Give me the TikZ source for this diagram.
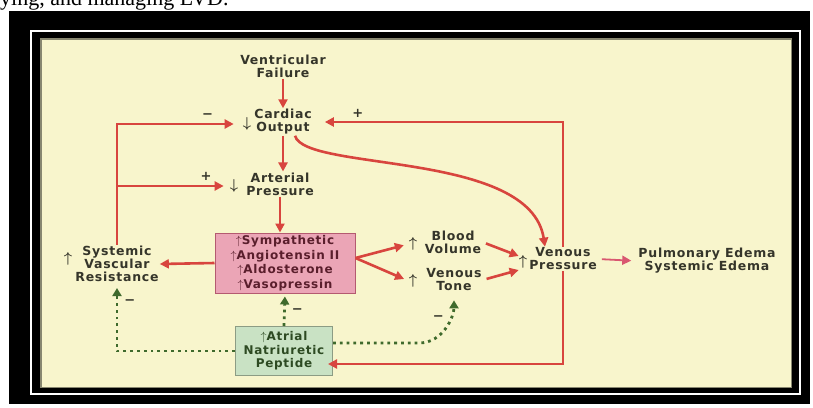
\documentclass[tikz,border=0pt]{standalone}
\usepackage{fontspec}
\setmainfont{Liberation Serif}
\newfontfamily\diagfont[LetterSpace=6]{DejaVu Sans}
\usetikzlibrary{arrows.meta}
\definecolor{creme}{HTML}{F8F5CC}
\definecolor{rouge}{HTML}{D8453E}
\definecolor{roserouge}{HTML}{D95770}
\definecolor{rose}{HTML}{EBA5B6}
\definecolor{rosefonce}{HTML}{B45A70}
\definecolor{bordeaux}{HTML}{5A1E2C}
\definecolor{vertpale}{HTML}{C9E2C4}
\definecolor{vertgris}{HTML}{8C9C84}
\definecolor{vert}{HTML}{3F6A2C}
\definecolor{vertfonce}{HTML}{2D4A22}
\definecolor{encre}{HTML}{35352A}

\begin{document}
\begin{tikzpicture}[x=1pt,y=-1pt]
\tikzset{lbl/.style={font=\diagfont\bfseries\fontsize{12.5}{13}\selectfont, text=encre, align=center, inner sep=1pt},
  sym/.style={font=\Large\boldmath, text=encre, inner sep=0pt},
  sgn/.style={font=\diagfont\bfseries\fontsize{13}{13}\selectfont, text=encre, inner sep=0pt},
  fl/.style={draw=rouge, line width=2.6pt, -{Triangle[length=9pt,width=9pt]}},
  pt/.style={draw=vert, line width=2.8pt, dash pattern=on 2.8pt off 4pt, -{Triangle[length=8pt,width=9pt]}}}
\useasboundingbox (0,0) rectangle (813,407);
% cadre
\fill[black] (9,11) rectangle (810,404);
\draw[white, line width=2.5pt] (31,31) rectangle (800,394);
\fill[creme] (40,38) rectangle (792,388);
\draw[black!45!creme, line width=1.5pt] (40.75,38.75) rectangle (791.25,387.25);
\begin{scope}
\clip (0,0) rectangle (813,407);
\node[anchor=base west, inner sep=0pt, font=\fontsize{22}{22}\selectfont] (HAUT) at (0,5) {ying, and managing LVD.};
\end{scope}
% noeuds
\node[lbl] (VF) at (283,66) {Ventricular\\Failure};
\node[lbl] (CO) at (283,122) {Cardiac\\Output};
\node[sym] (COa) at (247,124) {$\downarrow$};
\node[lbl] (AP) at (280,184) {Arterial\\Pressure};
\node[sym] (APa) at (234,186) {$\downarrow$};
\node[draw=rosefonce, fill=rose, line width=1pt, minimum width=140pt, minimum height=60pt, inner sep=0pt, align=center, text=bordeaux,
  font=\diagfont\bfseries\fontsize{12}{14.5}\selectfont] (SNS) at (285,263)
  {$\uparrow$Sympathetic\\$\uparrow$Angiotensin II\\$\uparrow$Aldosterone\\$\uparrow$Vasopressin};
\node[lbl] (SVR) at (117,264) {Systemic\\Vascular\\Resistance};
\node[sym] (SVRa) at (68,259) {$\uparrow$};
\node[lbl] (BV) at (453,242) {Blood\\Volume};
\node[sym] (BVa) at (413,244) {$\uparrow$};
\node[lbl] (VT) at (454,280) {Venous\\Tone};
\node[sym] (VTa) at (413,281) {$\uparrow$};
\node[lbl] (VP) at (563,259) {Venous\\Pressure};
\node[sym] (VPa) at (523,262) {$\uparrow$};
\node[lbl] (ED) at (707,261) {Pulmonary Edema\\Systemic Edema};
\node[draw=vertgris, fill=vertpale, line width=1pt, minimum width=97pt, minimum height=49pt, inner sep=0pt, align=center, text=vertfonce,
  font=\diagfont\bfseries\fontsize{12}{13.5}\selectfont] (ANP) at (284,351) {$\uparrow$Atrial\\Natriuretic\\Peptide};
% fleches
\draw[fl] (VF.south) -- (VF.south |- CO.north);
\draw[fl] (CO.south) -- (CO.south |- AP.north);
\draw[fl] (AP.south) -- (AP.south |- SNS.north);
\draw[fl] (SNS.west) -- (SVR.east);
\draw[fl, shorten >=5pt] ([yshift=5pt]SNS.east) -- (BVa.west);
\draw[fl, shorten >=5pt] ([yshift=5pt]SNS.east) -- (VTa.west);
\draw[fl, shorten <=4pt] (BV.east) -- ([yshift=6pt]VPa.west);
\draw[fl, shorten <=4pt] (VT.east) -- ([yshift=-8pt]VPa.west);
\draw[fl, draw=roserouge, line width=1.8pt, shorten <=4pt, shorten >=6pt] (VP.east) -- (ED.west);
\draw[fl] ([xshift=12pt]CO.south) .. controls (305,172) and (530,150) .. ([xshift=-18pt]VP.north);
% boucles
\draw[fl, shorten >=9pt] (SVR.north) |- (COa.west) node[sgn, pos=0.86, above=4pt] {−};
\draw[fl, shorten >=6pt] (SVR.north |- APa.west) -- (APa.west) node[sgn, pos=0.79, above=4pt] {+};
\draw[fl, shorten >=12pt] (VP.north) |- (CO.east) node[sgn, pos=0.91, above=3pt] {+};
\draw[fl, shorten >=-5pt] (VP.south) |- ([yshift=-13pt]ANP.east);
\draw[pt, shorten >=5pt] (ANP.west) -| (SVR.south) node[sgn, pos=0.86, right=6pt] {−};
\draw[pt, shorten >=3pt] (ANP.north) -- (SNS.south) node[sgn, pos=0.45, right=6pt] {−};
\draw[pt, shorten >=8pt] ([yshift=8pt]ANP.east) -- ++(86,0) to[out=0,in=-90] node[sgn, pos=0.55, above left=2pt] {−} (VT.south);
\end{tikzpicture}
\end{document}
